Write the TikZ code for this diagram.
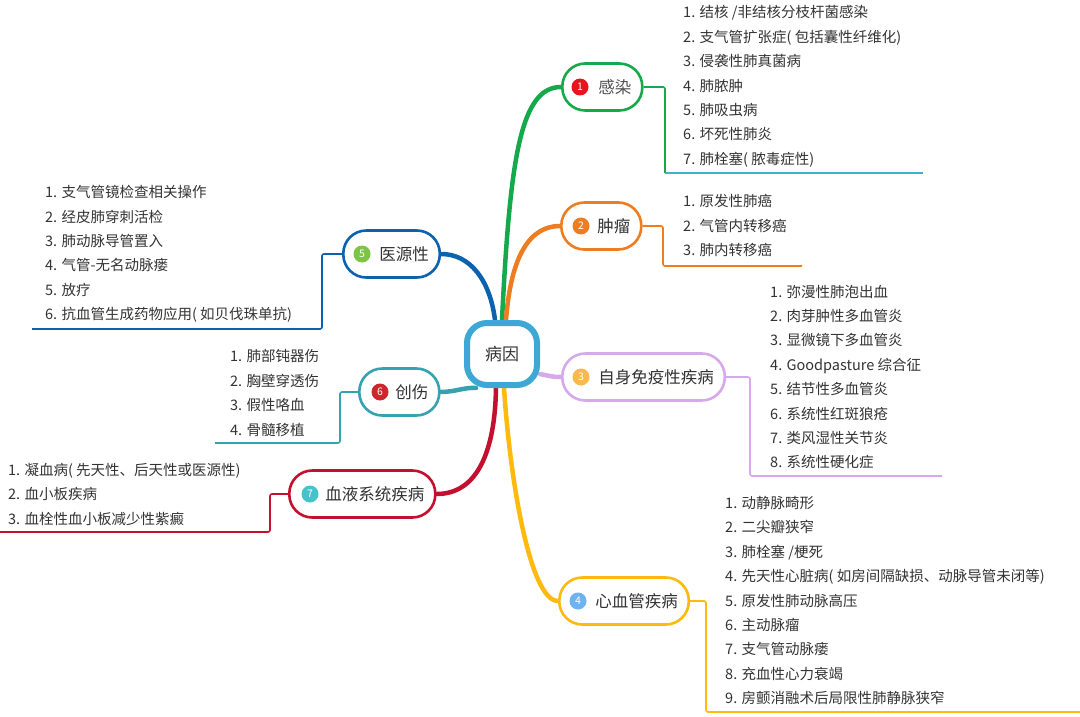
\documentclass[tikz,border=0pt]{standalone}
\usepackage{fontspec}
\setmainfont{Noto Sans CJK SC}
\usetikzlibrary{backgrounds}
\definecolor{ctext}{HTML}{333333}
\definecolor{ccenter}{HTML}{3DA8D3}
\definecolor{cgreen}{HTML}{16A94C}
\definecolor{ccyan}{HTML}{3BB3CF}
\definecolor{corange}{HTML}{EE7D22}
\definecolor{cpurple}{HTML}{D6A9EC}
\definecolor{cgold}{HTML}{FFB90F}
\definecolor{cblue}{HTML}{0D62AD}
\definecolor{cteal}{HTML}{35A2B0}
\definecolor{ccrimson}{HTML}{C4102F}
\definecolor{nred}{HTML}{E8141E}
\definecolor{nyellow}{HTML}{FBB84C}
\definecolor{nsky}{HTML}{6DB3F0}
\definecolor{nlime}{HTML}{7CC544}
\definecolor{nbrick}{HTML}{C9292C}
\definecolor{naqua}{HTML}{45C3CB}

\begin{document}
\begin{tikzpicture}[x=1pt,y=-1pt,
    pill/.style={draw,fill=white,line width=2.6pt,rounded corners=23pt,minimum height=47pt,inner xsep=11pt,anchor=west,text=ctext,font=\fontsize{16.5}{18}\selectfont},
    num/.style={circle,inner sep=0pt,minimum size=17pt,text=white,font=\fontsize{10.5}{11}\selectfont},
    items/.style={anchor=west,align=left,inner sep=0pt,text=ctext,font=\fontsize{14.5}{24.4}\selectfont},
    branch/.style={line width=4.5pt,line cap=round},
    bracket/.style={line width=1.6pt,rounded corners=2pt}]
  \useasboundingbox (0,0) rectangle (1080,717);

  \node[draw=ccenter,line width=6pt,fill=white,rounded corners=20pt,minimum width=70pt,minimum height=62pt,text=ctext,font=\fontsize{17}{18}\selectfont] (0) at (502,354) {病因};

  \node[pill,draw=cgreen,text=ctext!85] (b1) at (561,87) {\hspace{25pt}感染};
  \node[pill,draw=corange] (b2) at (560,226) {\hspace{25pt}肿瘤};
  \node[pill,draw=cpurple] (b3) at (561,377) {\hspace{25pt}自身免疫性疾病};
  \node[pill,draw=cgold] (b4) at (558,601) {\hspace{25pt}心血管疾病};
  \node[pill,draw=cblue] (b5) at (342,254) {\hspace{25pt}医源性};
  \node[pill,draw=cteal] (b6) at (358,392) {\hspace{25pt}创伤};
  \node[pill,draw=ccrimson] (b7) at (288,494) {\hspace{25pt}血液系统疾病};

  \node[num,fill=nred] (n1) at ([xshift=19pt]b1.west) {1};
  \node[num,fill=corange] (n2) at ([xshift=21pt]b2.west) {2};
  \node[num,fill=nyellow] (n3) at ([xshift=20pt]b3.west) {3};
  \node[num,fill=nsky] (n4) at ([xshift=20pt]b4.west) {4};
  \node[num,fill=nlime] (n5) at ([xshift=20pt]b5.west) {5};
  \node[num,fill=nbrick] (n6) at ([xshift=22pt]b6.west) {6};
  \node[num,fill=naqua] (n7) at ([xshift=22pt]b7.west) {7};

  \node[items] (l1) at (683,86.5) {1. 结核 /非结核分枝杆菌感染\\2. 支气管扩张症( 包括囊性纤维化)\\3. 侵袭性肺真菌病\\4. 肺脓肿\\5. 肺吸虫病\\6. 坏死性肺炎\\7. 肺栓塞( 脓毒症性)};
  \node[items] (l2) at (683,225.5) {1. 原发性肺癌\\2. 气管内转移癌\\3. 肺内转移癌};
  \node[items] (l3) at (770,377) {1. 弥漫性肺泡出血\\2. 肉芽肿性多血管炎\\3. 显微镜下多血管炎\\4. Goodpasture 综合征\\5. 结节性多血管炎\\6. 系统性红斑狼疮\\7. 类风湿性关节炎\\8. 系统性硬化症};
  \node[items] (l4) at (725,600.5) {1. 动静脉畸形\\2. 二尖瓣狭窄\\3. 肺栓塞 /梗死\\4. 先天性心脏病( 如房间隔缺损、动脉导管未闭等)\\5. 原发性肺动脉高压\\6. 主动脉瘤\\7. 支气管动脉瘘\\8. 充血性心力衰竭\\9. 房颤消融术后局限性肺静脉狭窄};
  \node[items] (l5) at (45,254) {1. 支气管镜检查相关操作\\2. 经皮肺穿刺活检\\3. 肺动脉导管置入\\4. 气管-无名动脉瘘\\5. 放疗\\6. 抗血管生成药物应用( 如贝伐珠单抗)};
  \node[items] (l6) at (230,393) {1. 肺部钝器伤\\2. 胸壁穿透伤\\3. 假性咯血\\4. 骨髓移植};
  \node[items] (l7) at (8,494.5) {1. 凝血病( 先天性、后天性或医源性)\\2. 血小板疾病\\3. 血栓性血小板减少性紫癜};

  \coordinate (k1) at (665,87);
  \coordinate (e1) at (923,173);
  \coordinate (k2) at (663,226);
  \coordinate (e2) at (802,266);
  \coordinate (k3) at (750,377);
  \coordinate (e3) at (942,476);
  \coordinate (k4) at (706,601);
  \coordinate (e4) at (1080,712);
  \coordinate (k5) at (322,254);
  \coordinate (e5) at (32,329);
  \coordinate (k6) at (340,392);
  \coordinate (e6) at (215,443);
  \coordinate (k7) at (270,494);
  \coordinate (e7) at (0,532);

  \begin{scope}[on background layer]
    \draw[branch,cgreen] (0.north) .. controls (510,160) and (520,87) .. (b1.west);
    \draw[branch,corange] ([xshift=4pt]0.north) .. controls (511,255) and (530,226) .. (b2.west);
    \draw[branch,cpurple] ([yshift=-20pt]0.east) .. controls (550,376) and (552,377) .. (b3.west);
    \draw[branch,cgold] ([xshift=2pt]0.south) .. controls (510,480) and (530,601) .. (b4.west);
    \draw[branch,cblue] ([xshift=-7pt]0.north) .. controls (490,280) and (470,254) .. (b5.east);
    \draw[branch,cteal] ([xshift=12pt]0.south west) .. controls (465,387) and (455,392) .. (b6.east);
    \draw[branch,ccrimson] ([xshift=-6pt]0.south) .. controls (495,450) and (478,494) .. (b7.east);

    \draw[bracket,cgreen] (b1.east) -- (k1) -- (k1|-e1);
    \draw[bracket,ccyan] (k1|-e1) -- (e1);
    \draw[bracket,corange] (b2.east) -- (k2) |- (e2);
    \draw[bracket,cpurple] (b3.east) -- (k3) |- (e3);
    \draw[bracket,cgold] (b4.east) -- (k4) |- (e4);
    \draw[bracket,cblue] (b5.west) -- (k5) |- (e5);
    \draw[bracket,cteal] (b6.west) -- (k6) |- (e6);
    \draw[bracket,ccrimson] (b7.west) -- (k7) |- (e7);
  \end{scope}
\end{tikzpicture}
\end{document}
